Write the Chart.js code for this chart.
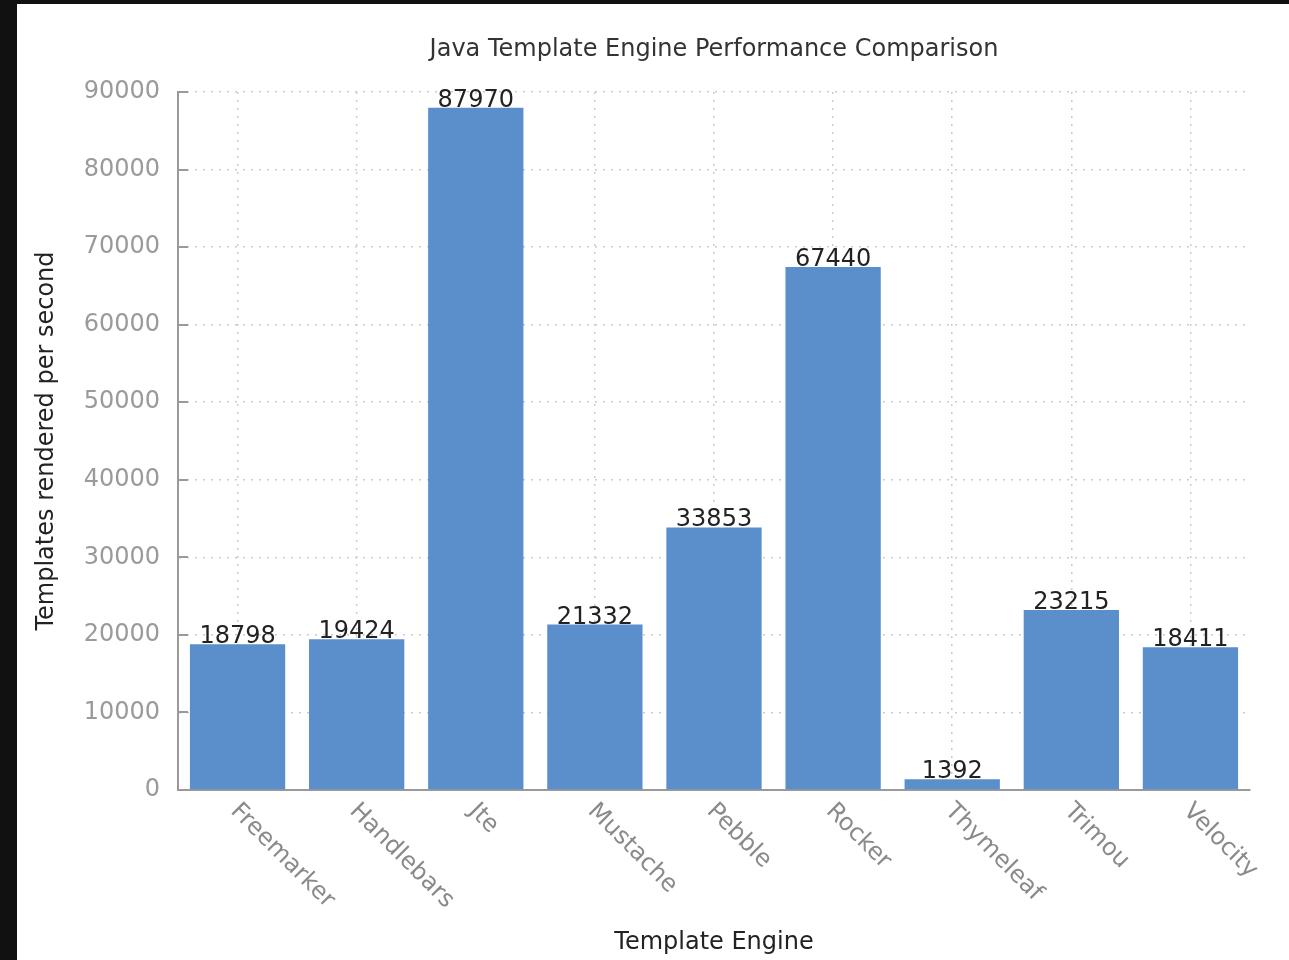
<!DOCTYPE html>
<html>
<head>
<meta charset="utf-8">
<script src="https://cdn.jsdelivr.net/npm/chart.js@4"></script>
<style>
    html, body { margin: 0; padding: 0; background: #111; }
    #wrap { position: absolute; left: 17px; top: 4px; width: 1272px; height: 956px; background: #fff; }
    canvas { display: block; }
</style>
</head>
<body>
<div id="wrap"><canvas id="engineStat" width="1272" height="956"></canvas></div>
<script>
let chartTitle = "Java Template Engine Performance Comparison";
let engines = ["Freemarker", "Handlebars", "Jte", "Mustache", "Pebble", "Rocker", "Thymeleaf", "Trimou", "Velocity"];
let rendersPerSecond = [18798, 19424, 87970, 21332, 33853, 67440, 1392, 23215, 18411];
let yTicks = [0, 10000, 20000, 30000, 40000, 50000, 60000, 70000, 80000, 90000];

Chart.defaults.font.family = "'DejaVu Sans', Verdana, sans-serif";

// title over the plot, small ticks pointing into the plot, value labels and slanted category names
let extrasPlugin = {
    id: "extras",
    afterDraw: function (chart) {
        let ctx = chart.ctx;
        let area = chart.chartArea;
        let xScale = chart.scales.x;
        let yScale = chart.scales.y;
        ctx.save();

        ctx.fillStyle = "#333";
        ctx.font = "24px 'DejaVu Sans'";
        ctx.textAlign = "center";
        ctx.textBaseline = "middle";
        ctx.fillText(chartTitle, (area.left + area.right) / 2, 46);

        ctx.strokeStyle = "#9a9a9a";
        ctx.lineWidth = 2;
        for (let v of yTicks) {
            let y = Math.round(yScale.getPixelForValue(v));
            ctx.beginPath();
            ctx.moveTo(area.left, y);
            ctx.lineTo(area.left + 10, y);
            ctx.stroke();
        }

        let meta = chart.getDatasetMeta(0);
        ctx.fillStyle = "#222";
        ctx.font = "24px 'DejaVu Sans'";
        ctx.textAlign = "center";
        ctx.textBaseline = "alphabetic";
        meta.data.forEach(function (bar, i) {
            ctx.fillText(String(rendersPerSecond[i]), bar.x, bar.y - 1);
        });

        ctx.fillStyle = "#8a8a8a";
        ctx.font = "24px 'DejaVu Sans'";
        ctx.textAlign = "left";
        ctx.textBaseline = "top";
        for (let i = 0; i < engines.length; i++) {
            let x = xScale.getPixelForValue(i);
            ctx.save();
            ctx.translate(x + 5, area.bottom + 9);
            ctx.rotate(Math.PI / 4);
            ctx.fillText(engines[i], 0, 0);
            ctx.restore();
        }
        ctx.restore();
    }
};

let ctx = document.getElementById("engineStat").getContext("2d");
let engineChart = new Chart(ctx, {
    type: "bar",
    data: {
        labels: engines,
        datasets: [{
            label: "Templates rendered per second",
            data: rendersPerSecond,
            backgroundColor: "#5b8fcb",
            borderWidth: 0,
            barPercentage: 1,
            categoryPercentage: 0.8
        }]
    },
    options: {
        responsive: false,
        animation: false,
        layout: { padding: { left: 0, right: 39, top: 88, bottom: 0 } },
        plugins: {
            legend: { display: false },
            tooltip: { enabled: false },
            title: { display: false }
        },
        scales: {
            x: {
                afterFit: function (scale) { scale.height = 170; },
                grid: {
                    offset: false,
                    drawTicks: false,
                    color: "#cccccc",
                    lineWidth: 1.5
                },
                border: { display: true, color: "#9a9a9a", width: 2, dash: [2, 6] },
                ticks: { display: false },
                title: {
                    display: true,
                    text: "Template Engine",
                    color: "#222",
                    font: { size: 24 },
                    padding: { top: 0, bottom: 2.6 }
                }
            },
            y: {
                min: 0,
                max: 90000,
                afterFit: function (scale) { scale.width = 161; },
                afterBuildTicks: function (scale) {
                    scale.ticks = yTicks.map(function (v) { return { value: v }; });
                },
                grid: {
                    drawTicks: false,
                    color: "#cccccc",
                    lineWidth: 1.5
                },
                border: { display: true, color: "#9a9a9a", width: 2, dash: [2, 6] },
                ticks: {
                    color: "#9a9a9a",
                    font: { size: 24 },
                    padding: 18,
                    callback: function (value) { return String(value); }
                },
                title: {
                    display: true,
                    text: "Templates rendered per second",
                    color: "#222",
                    font: { size: 24 },
                    padding: { top: 15, bottom: 0 }
                }
            }
        }
    },
    plugins: [extrasPlugin]
});
</script>
</body>
</html>
